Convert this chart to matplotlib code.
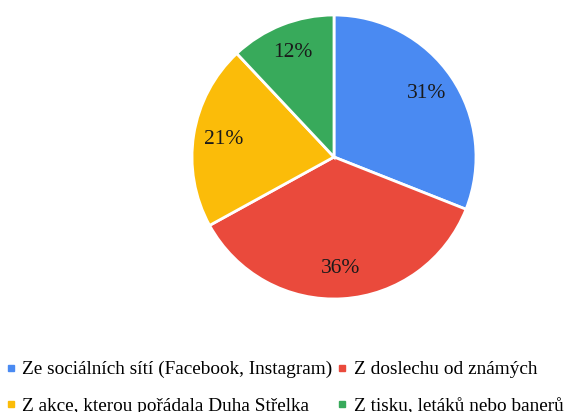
import matplotlib
matplotlib.use("Agg")
import matplotlib.pyplot as plt
from matplotlib.lines import Line2D

categories = [
    "Ze sociálních sítí (Facebook, Instagram)",
    "Z doslechu od známých",
    "Z akce, kterou pořádala Duha Střelka",
    "Z tisku, letáků nebo banerů",
]
shares = [31, 36, 21, 12]
colors = ["#4A8AF2", "#EA4A3C", "#FBBC09", "#38AA5B"]

plt.rcParams["font.family"] = ["Liberation Serif", "DejaVu Serif"]

W, H = 565, 412
fig = plt.figure(figsize=(W / 100, H / 100), dpi=100)

cx, cy, r = 334, 157, 142
ax = fig.add_axes([(cx - r) / W, (H - cy - r) / H, 2 * r / W, 2 * r / H])
wedges, _, autotexts = ax.pie(
    shares,
    colors=colors,
    startangle=90,
    counterclock=False,
    autopct=lambda p: f"{p:.0f}%",
    pctdistance=0.79,
    wedgeprops=dict(edgecolor="white", linewidth=2),
    textprops=dict(fontsize=15.5, color="#1a1a1a"),
)
ax.set_xlim(-1.0, 1.0)
ax.set_ylim(-1.0, 1.0)
ax.set_aspect("equal")
ax.axis("off")

# legend in two rows: fill order is column-wise
order = [0, 2, 1, 3]
handles = [
    Line2D([], [], marker="s", linestyle="none", markersize=5,
           markerfacecolor=colors[i], markeredgecolor=colors[i])
    for i in order
]
labels = [categories[i] for i in order]
fig.legend(
    handles, labels,
    ncol=2,
    loc="upper left",
    bbox_to_anchor=(0.0, (H - 355) / H),
    frameon=False,
    fontsize=13.9,
    handlelength=0.5,
    handletextpad=0.35,
    columnspacing=0.25,
    labelspacing=1.0,
    borderaxespad=0,
    borderpad=0.3,
)

fig.savefig("out.png", dpi=100, facecolor="white")
